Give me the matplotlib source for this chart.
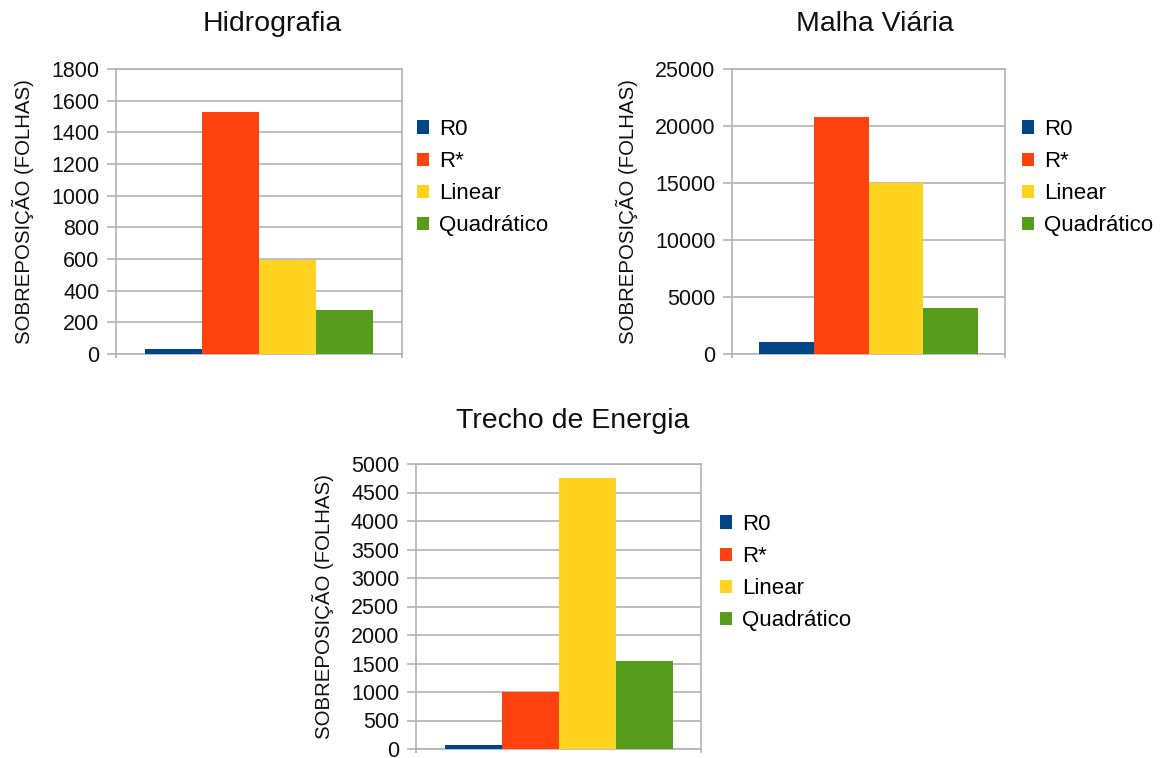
import matplotlib
matplotlib.use("Agg")
import matplotlib.pyplot as plt
from matplotlib.patches import Patch
import numpy as np

plt.rcParams['font.family'] = ['Liberation Sans', 'DejaVu Sans']

series = ["R0", "R*", "Linear", "Quadrático"]
colors = ["#004586", "#ff420e", "#ffd320", "#579d1c"]

titles = ["Hidrografia", "Malha Viária", "Trecho de Energia"]
hidrografia = [32, 1526, 596, 277]
malha_viaria = [1090, 20760, 14970, 4010]
trecho_energia = [65, 997, 4755, 1540]

y_max = [1800, 25000, 5000]
y_step = [200, 5000, 500]
y_label = "SOBREPOSIÇÃO (FOLHAS)"

W, H = 1161, 758
fig = plt.figure(figsize=(W / 100, H / 100), dpi=100)


def box(x0, y0, x1, y1):
    """Pixel box (top-left origin) to figure fraction rect."""
    return [x0 / W, (H - y1) / H, (x1 - x0) / W, (y1 - y0) / H]


panels = [
    # axes box, title centre/baseline, ylabel x, legend anchor
    dict(rect=box(116, 69, 402, 354), title=(272, 31), ylab=23, leg=(417, 119)),
    dict(rect=box(732, 69, 1005, 354), title=(875, 31), ylab=627, leg=(1022, 119)),
    dict(rect=box(416, 464, 701, 749), title=(573, 428), ylab=323, leg=(720, 514)),
]

grid_col = "#b3b3b3"
data = [hidrografia, malha_viaria, trecho_energia]

for i, (p, vals) in enumerate(zip(panels, data)):
    ax = fig.add_axes(p["rect"])
    offsets = np.array([-0.3, -0.1, 0.1, 0.3])
    ax.bar(offsets, vals, width=0.2, color=colors, zorder=3)
    ax.set_xlim(-0.5, 0.5)
    ax.set_ylim(0, y_max[i])
    ax.set_yticks(np.arange(0, y_max[i] + 1, y_step[i]))
    ax.set_xticks([-0.5, 0.5])
    ax.set_xticklabels([])
    ax.grid(axis="y", color=grid_col, linewidth=1.2, zorder=0)
    for s in ax.spines.values():
        s.set_color(grid_col)
        s.set_linewidth(1.2)
    ax.tick_params(axis="y", length=6.5, width=1.2, color=grid_col,
                   labelsize=15.5, pad=5.5, labelcolor="#111111")
    ax.tick_params(axis="x", length=3, width=1.2, color=grid_col)

    tx, ty = p["title"]
    fig.text(tx / W, (H - ty) / H, titles[i], ha="center", va="baseline",
             fontsize=20.5, color="#111111")

    ax_rect = p["rect"]
    fig.text(p["ylab"] / W, ax_rect[1] + ax_rect[3] / 2, y_label,
             rotation=90, ha="center", va="center", fontsize=14.7,
             color="#111111")

    handles = [Patch(facecolor=c, edgecolor="none") for c in colors]
    lx, ly = p["leg"]
    fig.legend(handles, series, loc="upper left",
               bbox_to_anchor=(lx / W, (H - ly) / H),
               bbox_transform=fig.transFigure, frameon=False,
               fontsize=16, handlelength=0.55, handleheight=0.55,
               handletextpad=0.45, labelspacing=0.5, borderpad=0,
               borderaxespad=0)

fig.savefig("out.png", dpi=100)
